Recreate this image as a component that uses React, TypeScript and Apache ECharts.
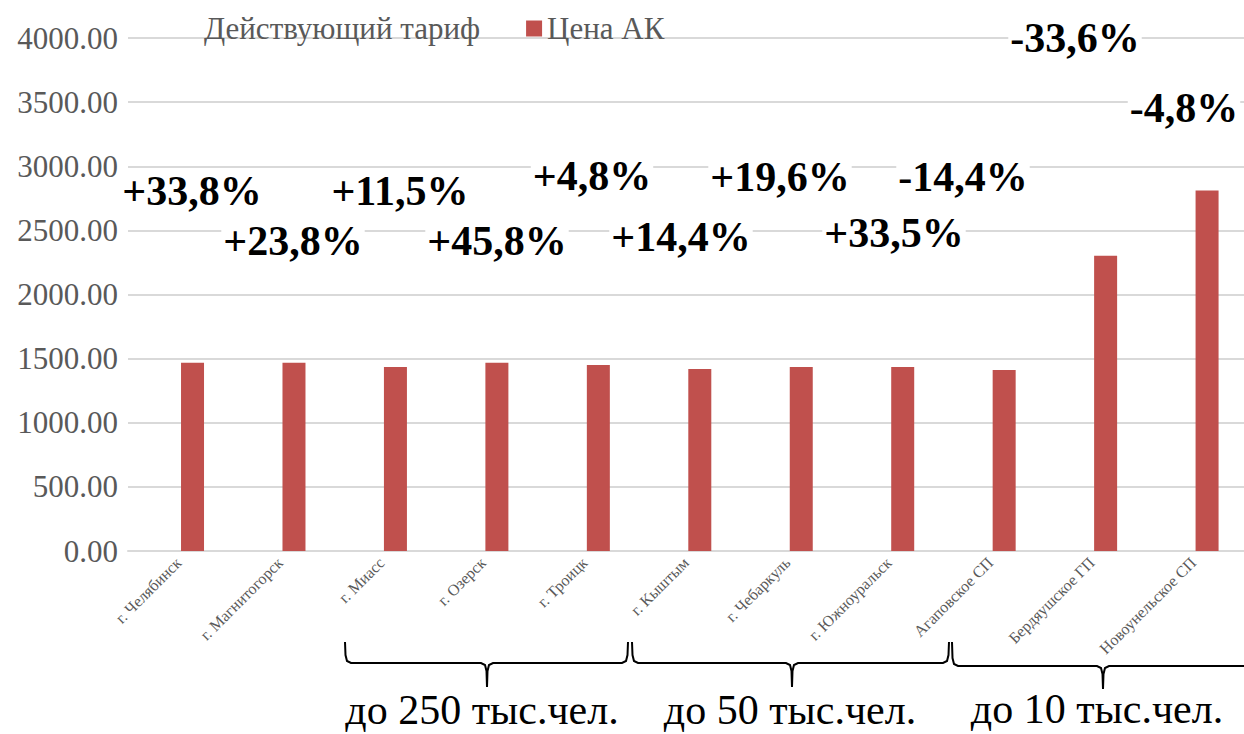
import React, { useEffect, useRef } from "react";
import * as echarts from "echarts";

const categories = [
  "г. Челябинск",
  "г. Магнитогорск",
  "г. Миасс",
  "г. Озерск",
  "г. Троицк",
  "г. Кыштым",
  "г. Чебаркуль",
  "г. Южноуральск",
  "Агаповское СП",
  "Бердяушское ГП",
  "Новоунельское СП",
];

// "Действующий тариф" has no visible bars in the reference
const tariffValues: (number | null)[] = [null, null, null, null, null, null, null, null, null, null, null];
const akPrices = [1467, 1467, 1435, 1467, 1451, 1420, 1435, 1435, 1412, 2302, 2810];

const changeLabels = ["+33,8%", "+23,8%", "+11,5%", "+45,8%", "+4,8%", "+14,4%", "+19,6%", "+33,5%", "-14,4%", "-33,6%", "-4,8%"];
const groupLabels = ["до 250 тыс.чел.", "до 50 тыс.чел.", "до 10 тыс.чел."];

const yTicks = { min: 0, max: 4000, interval: 500 };

// layout (pixels)
const changePos: [number, number][] = [
  [192, 191], [293, 241], [400, 191], [497, 241], [592, 176], [681, 237],
  [780, 177], [894, 233], [963, 177], [1075, 38], [1184, 108],
];
const braces = [
  { x0: 345, x1: 628, xm: 487, yt: 642, yl: 663, yb: 687 },
  { x0: 632, x1: 949, xm: 792, yt: 642, yl: 663, yb: 687 },
  { x0: 952, x1: 1290, xm: 1103, yt: 642, yl: 666, yb: 689 },
];
const groupPos: [number, number][] = [[482, 710], [790, 710], [1097, 709]];

function bracePoints(b: { x0: number; x1: number; xm: number; yt: number; yl: number; yb: number }) {
  return [
    [b.x0, b.yt],
    [b.x0 + 0.5, b.yl - 8],
    [b.x0 + 2, b.yl - 2],
    [b.x0 + 6, b.yl],
    [b.xm - 6, b.yl],
    [b.xm - 2, b.yl + 2],
    [b.xm - 0.5, b.yl + 8],
    [b.xm, b.yb],
    [b.xm + 0.5, b.yl + 8],
    [b.xm + 2, b.yl + 2],
    [b.xm + 6, b.yl],
    [b.x1 - 6, b.yl],
    [b.x1 - 2, b.yl - 2],
    [b.x1 - 0.5, b.yl - 8],
    [b.x1, b.yt],
  ];
}

export default function App() {
  const ref = useRef<HTMLDivElement>(null);
  useEffect(() => {
    document.body.style.margin = "0";
    if (!ref.current) return;
    const chart = echarts.init(ref.current, null, { renderer: "svg" });
    const serif = "'Liberation Serif', 'Times New Roman', serif";
    const graphic: any[] = [];
    changeLabels.forEach((t, i) => {
      graphic.push({
        type: "text",
        x: changePos[i][0],
        y: changePos[i][1],
        z: 10,
        style: {
          text: t,
          fontFamily: serif,
          fontSize: 42,
          fontWeight: "bold",
          fill: "#000",
          align: "center",
          verticalAlign: "middle",
          backgroundColor: "#ffffff",
          padding: [0, 2],
        },
      });
    });
    braces.forEach((b) => {
      graphic.push({
        type: "polyline",
        shape: { points: bracePoints(b) },
        style: { stroke: "#000", lineWidth: 2, fill: null },
      });
    });
    groupLabels.forEach((t, i) => {
      graphic.push({
        type: "text",
        x: groupPos[i][0],
        y: groupPos[i][1],
        style: {
          text: t,
          fontFamily: serif,
          fontSize: 42,
          lineHeight: 36,
          fill: "#000",
          align: "center",
          verticalAlign: "middle",
        },
      });
    });

    chart.setOption({
      animation: false,
      backgroundColor: "#fff",
      grid: { left: 128, right: 0, top: 38, bottom: 183, containLabel: false },
      legend: {
        left: 178,
        top: 8,
        itemGap: 46,
        itemWidth: 16,
        itemHeight: 16,
        icon: "rect",
        textStyle: { fontFamily: serif, fontSize: 31, color: "#595959" },
        data: ["Действующий тариф", "Цена АК"],
      },
      xAxis: {
        type: "category",
        data: categories,
        axisLine: { lineStyle: { color: "#d9d9d9", width: 2 } },
        axisTick: { show: false },
        axisLabel: {
          interval: 0,
          rotate: 45,
          margin: 9,
          fontFamily: serif,
          fontSize: 16,
          color: "#595959",
        },
      },
      yAxis: {
        type: "value",
        min: yTicks.min,
        max: yTicks.max,
        interval: yTicks.interval,
        axisLine: { show: false },
        axisTick: { show: false },
        splitLine: { lineStyle: { color: "#d9d9d9", width: 2 } },
        axisLabel: {
          margin: 10,
          fontFamily: serif,
          fontSize: 31,
          color: "#595959",
          formatter: (v: number) => v.toFixed(2),
        },
      },
      series: [
        {
          name: "Действующий тариф",
          type: "bar",
          data: tariffValues,
          barWidth: 23,
          barGap: "20%",
          itemStyle: { color: "#ffffff" },
        },
        {
          name: "Цена АК",
          type: "bar",
          data: akPrices,
          barWidth: 23,
          barGap: "20%",
          itemStyle: { color: "#c0504d" },
        },
      ],
      graphic,
    });
    return () => chart.dispose();
  }, []);
  return <div ref={ref} style={{ width: 1244, height: 734 }} />;
}
